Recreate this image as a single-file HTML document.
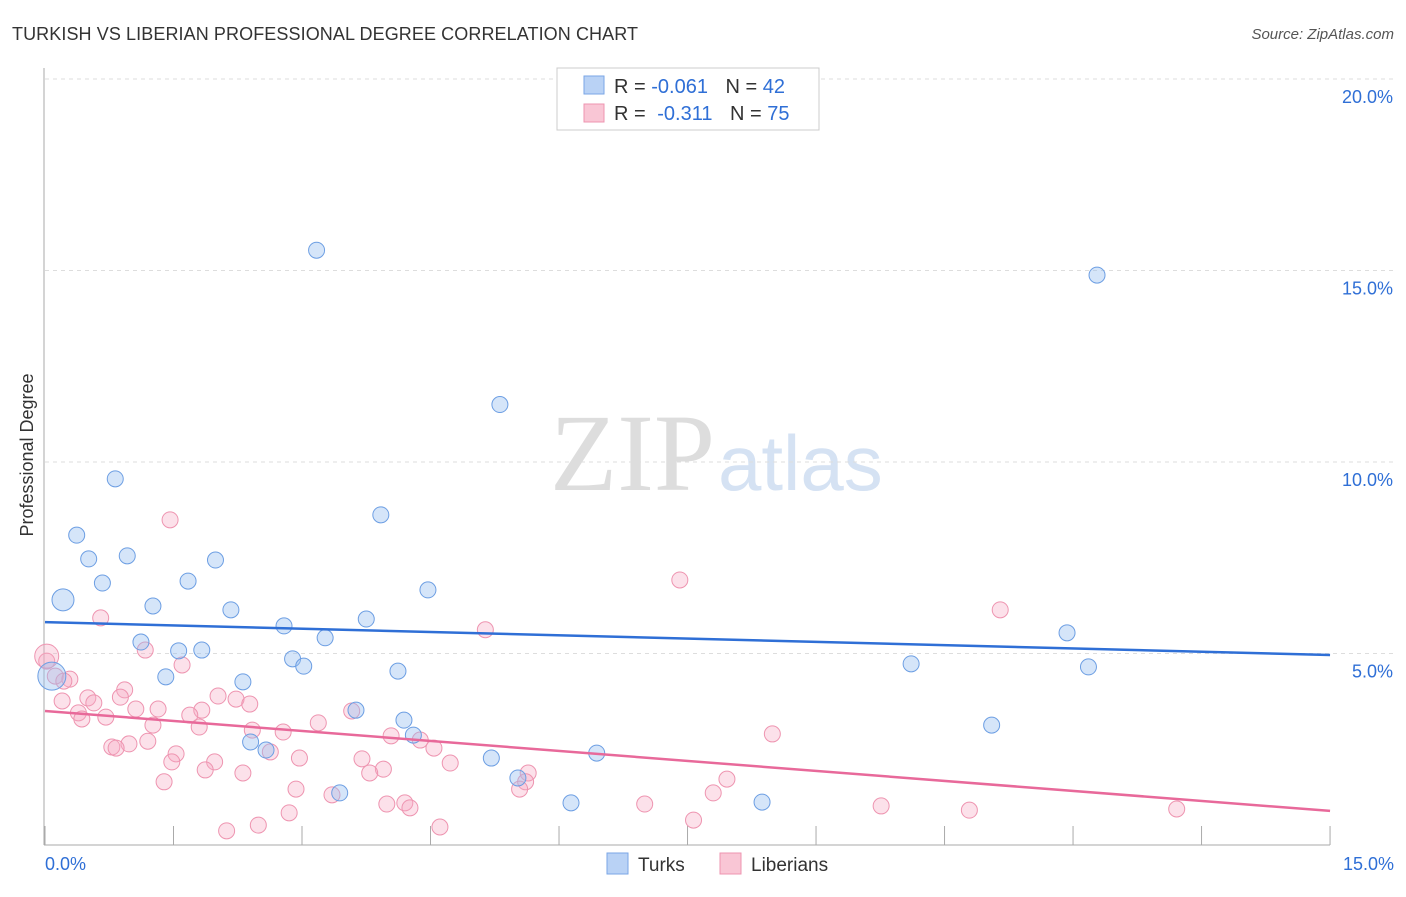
<!DOCTYPE html>
<html><head><meta charset="utf-8"><style>
body{margin:0;background:#fff;font-family:"Liberation Sans",sans-serif}
</style></head><body>
<svg width="1406" height="892" id="c" xmlns="http://www.w3.org/2000/svg">
<text x="12" y="40" font-size="18" fill="#333" textLength="626">TURKISH VS LIBERIAN PROFESSIONAL DEGREE CORRELATION CHART</text>
<text x="1394" y="39" font-size="15" fill="#555" font-style="italic" text-anchor="end">Source: ZipAtlas.com</text>
<text x="33" y="455" font-size="18" fill="#333" text-anchor="middle" transform="rotate(-90 33 455)">Professional Degree</text>
<text x="715" y="490" font-size="110" fill="#ddd" text-anchor="end" font-family="Liberation Serif,serif">ZIP</text>
<text x="718" y="490" font-size="78" fill="#d5e2f3">atlas</text>
<g id="grid"></g><g id="pts"></g><g id="lines"></g>
<g>
<rect x="557" y="68" width="262" height="62" fill="#fff" stroke="#ccc"/>
<rect x="584" y="76" width="20" height="18" fill="#b9d2f5" stroke="#7aa6e6"/>
<rect x="584" y="104" width="20" height="18" fill="#f9c6d5" stroke="#ee94b0"/>
<text x="614" y="93" font-size="20" fill="#333">R = <tspan fill="#2f6fd6">-0.061</tspan>  <tspan dx="12">N = </tspan><tspan fill="#2f6fd6">42</tspan></text>
<text x="614" y="120" font-size="20" fill="#333">R = <tspan dx="6" fill="#2f6fd6">-0.311</tspan>  <tspan dx="12">N = </tspan><tspan fill="#2f6fd6">75</tspan></text>
</g>
<g>
<rect x="607" y="853" width="21" height="21" fill="#b9d2f5" stroke="#7aa6e6"/>
<text x="638" y="871" font-size="19" fill="#333">Turks</text>
<rect x="720" y="853" width="21" height="21" fill="#f9c6d5" stroke="#ee94b0"/>
<text x="751" y="871" font-size="19" fill="#333">Liberians</text>
</g>
</svg>
<script>
const yTicks=[5,10,15,20];
const xTickLabels=["0.0%","15.0%"];
const turksX=[3.17,12.28,5.31,0.82,3.92,0.37,0.51,0.96,1.99,0.67,1.67,4.47,0.21,1.26,2.17,3.75,2.79,11.93,3.27,1.12,1.56,1.83,2.89,3.02,4.12,10.11,12.18,1.41,2.31,0.08,3.63,4.19,11.05,4.30,2.40,2.58,6.44,5.21,5.52,3.44,6.14,8.37];
const turksY=[15.53,14.88,11.5,9.56,8.62,8.09,7.47,7.55,7.44,6.84,6.89,6.66,6.4,6.24,6.14,5.9,5.72,5.54,5.41,5.3,5.07,5.09,4.86,4.67,4.54,4.73,4.65,4.39,4.26,4.41,3.52,3.26,3.13,2.87,2.69,2.48,2.4,2.27,1.75,1.36,1.10,1.12];
const libX=[1.46,7.41,11.15,0.65,5.14,1.17,1.6,0.02,0.12,0.29,0.22,0.93,0.5,0.57,2.02,2.23,2.39,0.88,0.2,1.06,1.32,1.83,0.39,0.71,0.43,1.69,3.19,1.26,3.58,1.80,2.42,2.78,4.04,4.38,8.49,1.20,0.98,0.78,0.83,2.63,4.54,1.53,3.7,2.97,4.73,1.48,1.98,3.95,1.87,2.31,3.79,5.64,7.96,1.39,5.61,2.93,5.54,7.8,3.35,4.2,3.99,4.26,7.0,9.76,10.79,13.21,2.85,2.49,2.12,4.61,7.57,0.02];
const libY=[8.49,6.92,6.14,5.93,5.62,5.09,4.7,4.8,4.41,4.33,4.28,4.05,3.84,3.71,3.89,3.81,3.68,3.86,3.76,3.55,3.55,3.52,3.45,3.34,3.29,3.39,3.19,3.13,3.5,3.08,3.0,2.95,2.85,2.74,2.9,2.71,2.64,2.56,2.53,2.43,2.53,2.38,2.25,2.27,2.14,2.17,2.17,1.98,1.96,1.88,1.88,1.88,1.72,1.65,1.65,1.46,1.46,1.36,1.31,1.10,1.07,0.97,1.07,1.02,0.91,0.94,0.84,0.52,0.37,0.47,0.65,4.93];
const turksTrend=[5.82,4.96], libTrend=[3.50,0.89];
const X=v=>45+v*85.67, Y=v=>845-v*38.3;
const NS="http://www.w3.org/2000/svg";
function mk(t,a,p){const e=document.createElementNS(NS,t);for(const k in a)e.setAttribute(k,a[k]);document.getElementById(p).appendChild(e);return e;}
yTicks.forEach(t=>{
 const l=mk('line',{x1:45,x2:1394,y1:Y(t),y2:Y(t),stroke:'#ddd','stroke-dasharray':'4,4'},'grid');
 
 
 const tx=mk('text',{x:1393,y:Y(t)+24,'font-size':18,fill:'#2f6fd6','text-anchor':'end'},'grid');tx.textContent=t.toFixed(1)+'%';
 
 
});
mk('line',{x1:45,x2:1394,y1:79,y2:79,stroke:'#ddd','stroke-dasharray':'4,4'},'grid');
mk('line',{x1:44,x2:44,y1:68,y2:845,stroke:'#aaa'},'grid');
mk('line',{x1:44,x2:1330,y1:845,y2:845,stroke:'#aaa'},'grid');
for(let i=0;i<=10;i++){const t=mk('line',{x1:X(i*1.5),x2:X(i*1.5),y1:826,y2:845,stroke:'#aaa'},'grid');
 
 }
[[0,'start',45],[1,'end',1394]].forEach(([i,a,x])=>{const t=mk('text',{x:x,y:870,'font-size':18,fill:'#2f6fd6','text-anchor':a},'grid');t.textContent=xTickLabels[i];
 
 });
libX.forEach((v,i)=>{const c=mk('circle',{cx:X(v),cy:Y(libY[i]),r:i==libX.length-1?12:8,fill:'rgba(246,170,195,0.35)',stroke:'#ee94b0','stroke-width':1},'pts');
 
 });
turksX.forEach((v,i)=>{const c=mk('circle',{cx:X(v),cy:Y(turksY[i]),r:i==29?14:(i==12?11:8),fill:'rgba(150,190,240,0.4)',stroke:'#6c9ee3','stroke-width':1},'pts');
 
 });
const tl=mk('line',{x1:X(0),x2:X(15),y1:Y(turksTrend[0]),y2:Y(turksTrend[1]),stroke:'#2f6fd6','stroke-width':2.5},'lines');


const ll=mk('line',{x1:X(0),x2:X(15),y1:Y(libTrend[0]),y2:Y(libTrend[1]),stroke:'#e8699a','stroke-width':2.5},'lines');


</script>
</body></html>
